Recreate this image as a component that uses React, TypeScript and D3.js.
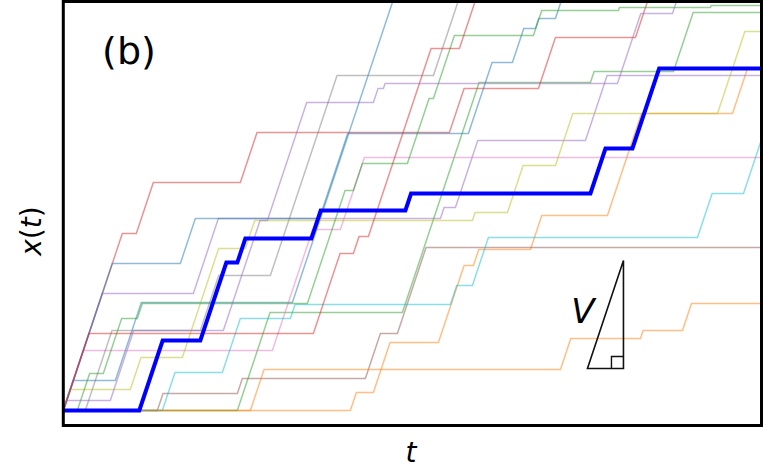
import React, { useEffect, useRef } from "react";
import * as d3 from "d3";

// run-and-tumble style trajectories: each run = [time the particle starts moving, level where it stops]
// all particles start at the same level and move with the same speed v
const startLevel = 15;
const speed = 3.0;
const tMax = 698;
const xMax = 424;

const runsBlueA = [[0, 45], [52, 123], [229, 450]];
const runsOrangeA = [[287, 33], [310, 83], [375, 160], [410, 176], [467, 210], [544, 312], [669, 357]];
const runsGreenA = [[174, 113], [339, 343], [527, 354], [610, 413]];
const runsRedA = [[0, 192], [73, 243], [177, 293], [386, 337], [475, 388], [572, 450]];
const runsPurpleA = [[0, 132], [130, 207], [377, 218], [392, 285], [522, 350]];
const runsBrown = [[94, 32], [174, 47], [302, 92], [334, 178]];
const runsPink = [[0, 75], [209, 196], [277, 268]];
const runsGray = [[22, 95], [137, 150], [207, 350], [370, 450]];
const runsOlive = [[0, 36], [67, 68], [119, 177], [182, 205], [409, 213], [444, 260], [492, 312], [654, 394]];
const runsCyan = [[99, 53], [159, 107], [227, 121], [387, 140], [409, 188], [634, 232], [680, 285]];
const runsBlueB = [[0, 162], [117, 207], [256, 292], [405, 363], [449, 397], [472, 407], [492, 450]];
const runsOrangeB = [[187, 56], [497, 87], [577, 95], [619, 122]];
const runsGreenB = [[14, 52], [40, 107], [74, 122], [244, 235], [290, 262], [344, 327], [370, 390], [470, 415], [555, 418], [647, 420]];
const runsRedB = [[0, 92], [250, 172], [290, 189], [305, 377], [396, 450]];
const runsPurpleB = [[0, 25], [47, 95], [160, 205], [204, 323], [310, 337], [320, 342], [554, 412], [609, 450]];

// highlighted trajectory
const runsHighlight = [[76, 85], [137, 163], [174, 187], [248, 215], [342, 232], [527, 277], [569, 357]];

const thinRuns = [
  runsBlueA, runsOrangeA, runsGreenA, runsRedA, runsPurpleA,
  runsBrown, runsPink, runsGray, runsOlive, runsCyan,
  runsBlueB, runsOrangeB, runsGreenB, runsRedB, runsPurpleB,
];

function toPoints(runs: number[][]) {
  const pts: [number, number][] = [[0, startLevel]];
  let cur = startLevel;
  runs.forEach(([ts, lvl]) => {
    pts.push([ts, cur]);
    pts.push([ts + (lvl - cur) / speed, lvl]);
    cur = lvl;
  });
  pts.push([tMax, cur]);
  return pts;
}

export default function App() {
  const ref = useRef<SVGSVGElement>(null);

  useEffect(() => {
    const left = 63.3, right = 761.5, top = 1.5, bottom = 425.5;

    const svg = d3.select(ref.current);
    svg.selectAll("*").remove();

    const x = d3.scaleLinear().domain([0, tMax]).range([left, right]);
    const y = d3.scaleLinear().domain([0, xMax]).range([bottom, top]);

    svg.append("defs").append("clipPath").attr("id", "plotclip")
      .append("rect")
      .attr("x", left).attr("y", top)
      .attr("width", right - left).attr("height", bottom - top);

    const line = d3.line<[number, number]>()
      .x(d => x(d[0]))
      .y(d => y(d[1]));

    const g = svg.append("g").attr("clip-path", "url(#plotclip)");

    g.selectAll(".traj")
      .data(thinRuns)
      .enter().append("path")
      .attr("class", "traj")
      .attr("d", d => line(toPoints(d)))
      .attr("fill", "none")
      .attr("stroke", (d, i) => d3.schemeCategory10[i % 10])
      .attr("stroke-opacity", 0.5)
      .attr("stroke-width", 1.5);

    g.append("path")
      .attr("d", line(toPoints(runsHighlight)))
      .attr("fill", "none")
      .attr("stroke", "#0000ff")
      .attr("stroke-width", 4);

    // slope triangle showing the speed v
    const t0 = 524, x0 = 57, w = 36, sq = 4;
    svg.append("path")
      .attr("d", `M${x(t0)},${y(x0)} L${x(t0 + w)},${y(x0)} L${x(t0 + w)},${y(x0 + speed * w)} Z`)
      .attr("fill", "none")
      .attr("stroke", "#111")
      .attr("stroke-width", 1.6);
    svg.append("path")
      .attr("d", `M${x(t0 + w - sq * 3)},${y(x0)} L${x(t0 + w - sq * 3)},${y(x0 + sq * 3)} L${x(t0 + w)},${y(x0 + sq * 3)}`)
      .attr("fill", "none")
      .attr("stroke", "#111")
      .attr("stroke-width", 1.4);
    svg.append("text")
      .attr("x", 583).attr("y", 323)
      .attr("text-anchor", "middle")
      .style("font-family", "DejaVu Sans")
      .style("font-style", "italic")
      .style("font-size", "34px")
      .text("V");

    // frame
    svg.append("rect")
      .attr("x", left).attr("y", top)
      .attr("width", right - left).attr("height", bottom - top)
      .attr("fill", "none")
      .attr("stroke", "#000")
      .attr("stroke-width", 3);

    svg.append("text")
      .attr("x", 129).attr("y", 64)
      .attr("text-anchor", "middle")
      .style("font-family", "DejaVu Sans")
      .style("font-size", "38px")
      .text("(b)");

    const ylab = svg.append("text")
      .attr("transform", "translate(41,231) rotate(-90)")
      .attr("text-anchor", "middle")
      .style("font-family", "DejaVu Sans")
      .style("font-size", "28px");
    ylab.append("tspan").style("font-style", "italic").text("x");
    ylab.append("tspan").text("(");
    ylab.append("tspan").style("font-style", "italic").text("t");
    ylab.append("tspan").text(")");

    svg.append("text")
      .attr("x", 411).attr("y", 462)
      .attr("text-anchor", "middle")
      .style("font-family", "DejaVu Sans")
      .style("font-style", "italic")
      .style("font-size", "28px")
      .text("t");
  }, []);

  return (
    <svg ref={ref} width={763} height={469}
      style={{ position: "absolute", left: 0, top: 0, background: "#fff" }} />
  );
}
